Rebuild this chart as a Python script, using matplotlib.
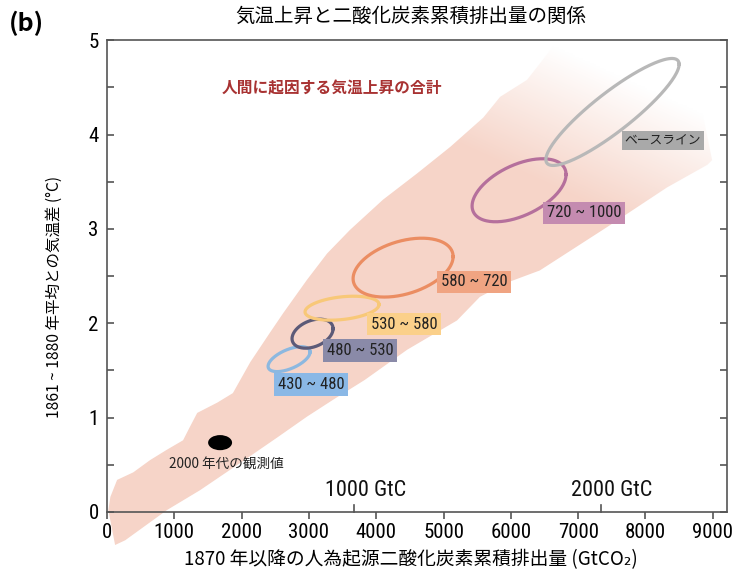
import numpy as np
import matplotlib
matplotlib.use("Agg")
import matplotlib.pyplot as plt
from matplotlib import font_manager
from matplotlib.patches import Polygon, Ellipse, Rectangle

plt.rcParams['font.family'] = ['Noto Sans CJK JP', 'DejaVu Sans']

# police étroite si disponible (les chiffres de l'original sont condensés)
_cond = {}
for f in font_manager.fontManager.ttflist:
    if f.stretch in ('condensed', 'semi-condensed', 'extra-condensed') and f.style == 'normal':
        _cond.setdefault(f.name, f.stretch)
NARROW = dict(family=['Liberation Sans', 'Noto Sans CJK JP'], stretch='normal')
for nm in ['Roboto Condensed', 'Liberation Sans Narrow', 'DejaVu Sans', 'Noto Sans', 'Open Sans', 'Roboto']:
    if nm in _cond:
        NARROW = dict(family=[nm, 'Noto Sans CJK JP'], stretch=_cond[nm])
        break

# --- données ---
# bande "total human-induced warming" (bord haut-gauche, puis bord bas-droit)
band_top_x = [120, 20, 50, 150, 390, 640, 890, 1130, 1230, 1340, 1640, 1870, 2130,
              2420, 2620, 2970, 3270, 3610, 4100, 4610, 5100, 5590, 5840, 6240, 6580, 6730]
band_top_y = [-0.35, 0.02, 0.16, 0.34, 0.42, 0.55, 0.66, 0.76, 0.90, 1.05, 1.16, 1.26, 1.59,
              1.90, 2.11, 2.46, 2.74, 2.99, 3.31, 3.59, 3.87, 4.18, 4.40, 4.58, 4.89, 5.05]
band_bot_x = [8070, 8810, 8990, 8920, 8320, 7430, 6430, 5940, 5540, 5200, 4460, 3830,
              3360, 2970, 2530, 1980, 1380, 890, 270]
band_bot_y = [5.05, 4.36, 3.73, 3.68, 3.44, 3.02, 2.56, 2.43, 2.28, 2.03, 1.72, 1.40,
              1.19, 1.01, 0.79, 0.52, 0.23, 0.02, -0.30]

# scénarios (ppm CO2eq) : centre, demi-étendue x / y, inclinaison
scen_labels = ['430 ~ 480', '480 ~ 530', '530 ~ 580', '580 ~ 720', '720 ~ 1000', 'ベースライン']
scen_cx = [2705, 3054, 3492, 4399, 6122, 7510]
scen_cy = [1.62, 1.89, 2.16, 2.59, 3.41, 4.24]
scen_ax = [312, 305, 550, 743, 698, 990]
scen_ay = [0.132, 0.154, 0.127, 0.312, 0.334, 0.567]
scen_tilt = [55, 70, 72, 68, 60, 27]
scen_line = ['#8cb8e0', '#5c5a78', '#f8c878', '#eb8d62', '#b5709c', '#b8b8b8']
scen_box = ['#8ab8e6', '#8a8aa8', '#fbd08a', '#f0a482', '#c48bb0', '#a9a9a9']
label_x = [3030, 3760, 4410, 5450, 7090, 8260]
label_y = [1.35, 1.71, 1.99, 2.44, 3.17, 3.94]

obs_x, obs_y = 1680, 0.735
gtc_marks = [1000, 2000]

fig = plt.figure(figsize=(7.38, 5.75), dpi=100)
ax = fig.add_axes([0.145, 0.1096, 0.840, 0.8204])

# bande rose, qui déborde sous l'axe
bx = band_top_x + band_bot_x
by = band_top_y + band_bot_y
band = Polygon(np.column_stack([bx, by]), closed=True, fc='#f6d4c8', ec='none', zorder=1)
ax.add_patch(band)
band.set_clip_path(Rectangle((0, -0.5), 9210, 5.5, transform=ax.transData))

# dégradé blanc vers le haut (surtout) et la droite
gx, gy = np.meshgrid(np.linspace(0, 1, 300), np.linspace(0, 1, 300))
fade = np.clip((0.6 * gx + gy - 1.12) / 0.30, 0, 1)
img = np.ones((300, 300, 4))
img[..., 3] = fade
ax.imshow(img, extent=[0, 1, 0, 1], transform=ax.transAxes, origin='lower',
          aspect='auto', zorder=1.5, interpolation='bilinear')

t = np.linspace(0, 2 * np.pi, 200)
for i in range(len(scen_labels)):
    d = np.deg2rad(scen_tilt[i])
    ex = scen_cx[i] + scen_ax[i] * np.cos(t)
    ey = scen_cy[i] + scen_ay[i] * np.cos(t - d)
    ax.plot(ex, ey, color=scen_line[i], lw=2.3, zorder=3)
    if scen_labels[i].isascii():
        kw = dict(fontsize=12, **NARROW)
    else:
        kw = dict(fontsize=9.2)
    ax.text(label_x[i], label_y[i], scen_labels[i], ha='center', va='center',
            color='#222222', zorder=4,
            bbox=dict(boxstyle='square,pad=0.22', fc=scen_box[i], ec='none'), **kw)

ax.add_patch(Ellipse((obs_x, obs_y), 356, 0.16, fc='black', ec='none', zorder=4))
ax.text(1770, 0.50, '2000 年代の観測値', ha='center', va='center', fontsize=9.8,
        color='#222222', zorder=4)
ax.text(3340, 4.49, '人間に起因する気温上昇の合計', ha='center', va='center',
        fontsize=11.3, color='#a83232', fontweight='bold', zorder=4)

# repères GtC sur l'axe du bas
for g in gtc_marks:
    xg = g * 3.667
    ax.plot([xg, xg], [0, 0.07], color='#555555', lw=1.2, zorder=5, clip_on=False)
    ax.text(xg + 170, 0.23, f'{g} GtC', ha='center', va='center', fontsize=16,
            color='#111111', zorder=4, **NARROW)

ax.set_xlim(0, 9210)
ax.set_ylim(0, 5)
ax.set_xticks(np.arange(0, 9001, 1000))
ax.set_yticks(np.arange(0, 6, 1))
ax.set_yticks(np.arange(0.5, 5, 1), minor=True)
for lab in ax.get_xticklabels() + ax.get_yticklabels():
    lab.set_family(NARROW['family'])
    lab.set_stretch(NARROW['stretch'])
ax.tick_params(axis='x', direction='out', length=5, width=1.2, color='#555555',
               labelsize=15, pad=3)
ax.tick_params(axis='y', which='both', direction='in', length=5, width=1.2,
               color='#555555', right=True, labelsize=15, pad=6)
for s in ax.spines.values():
    s.set_color('#555555')
    s.set_linewidth(1.2)
    s.set_zorder(6)

fig.text(0.557, 0.972, '気温上昇と二酸化炭素累積排出量の関係', ha='center', va='center',
         fontsize=14)
fig.text(0.012, 0.960, '(b)', ha='left', va='center', fontsize=18, fontweight='bold')
fig.text(0.557, 0.027, '1870 年以降の人為起源二酸化炭素累積排出量 (GtCO₂)', ha='center',
         va='center', fontsize=13.5)
fig.text(0.074, 0.484, '1861 ~ 1880 年平均との気温差 (°C)', ha='center', va='center',
         rotation=90, fontsize=11.2)

fig.savefig('out.png', dpi=100)
